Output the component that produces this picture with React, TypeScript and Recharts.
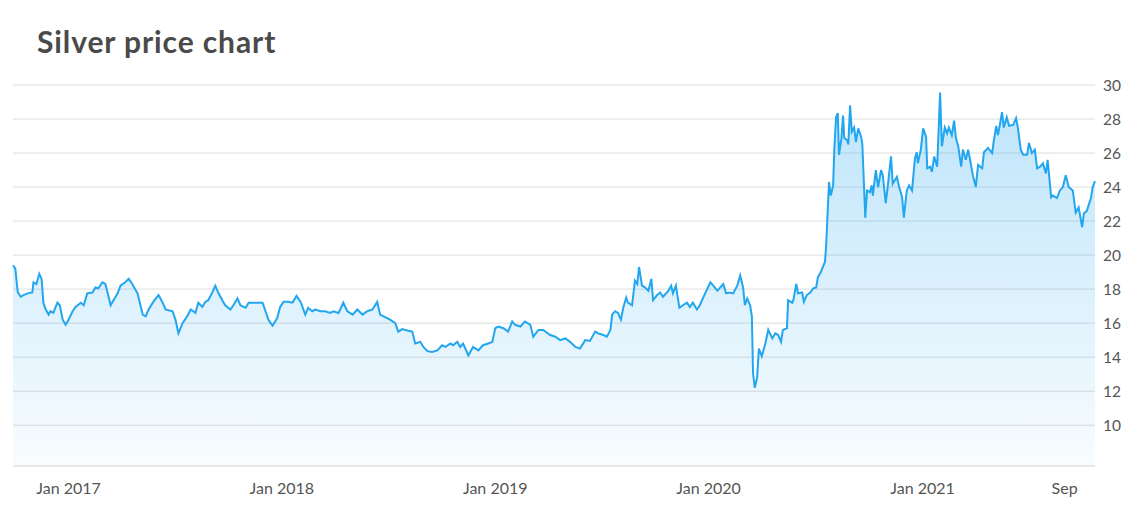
import { AreaChart, Area, XAxis, YAxis, CartesianGrid } from 'recharts';

// days since 1 Jan 2017
const DAYS = [
  -95, -91, -87, -82, -77, -70, -62, -60, -55, -50, -46, -43, -39, -34, -31, -26, -19, -15, -10, -5,
  0, 7, 12, 21, 26, 32, 41, 46, 51, 58, 63, 67, 72, 77, 84, 89, 97, 103, 109, 118,
  123, 127, 132, 137, 145, 154, 161, 166, 178, 183, 188, 195, 203, 209, 217, 222, 229, 234, 239, 246,
  251, 256, 263, 268, 277, 282, 289, 294, 303, 308, 316, 325, 332, 337, 342, 349, 357, 362, 368, 376,
  383, 390, 397, 405, 410, 417, 422, 431, 439, 448, 453, 462, 470, 477, 486, 494, 503, 511, 520, 528,
  533, 545, 550, 559, 564, 571, 581, 588, 593, 602, 607, 614, 622, 631, 639, 645, 653, 658, 665, 670,
  675, 684, 692, 701, 709, 718, 725, 730, 735, 744, 752, 759, 764, 773, 781, 790, 795, 804, 812, 824,
  833, 841, 850, 858, 867, 875, 884, 892, 901, 906, 915, 921, 927, 930, 935, 940, 945, 949, 954, 957,
  964, 969, 973, 976, 981, 986, 992, 997, 1000, 1007, 1012, 1017, 1026, 1031, 1034, 1039, 1045, 1051, 1058, 1063,
  1068, 1075, 1080, 1089, 1098, 1103, 1110, 1115, 1120, 1125, 1130, 1137, 1144, 1149, 1154, 1157, 1161, 1166, 1169, 1171,
  1174, 1178, 1181, 1186, 1192, 1197, 1204, 1209, 1214, 1219, 1222, 1229, 1231, 1238, 1240, 1245, 1248, 1255, 1258, 1263,
  1269, 1274, 1279, 1282, 1287, 1291, 1294, 1296, 1299, 1301, 1304, 1308, 1310, 1313, 1316, 1318, 1322, 1325, 1327, 1332,
  1334, 1337, 1340, 1344, 1347, 1351, 1356, 1358, 1363, 1366, 1371, 1374, 1376, 1381, 1385, 1390, 1393, 1398, 1402, 1407,
  1410, 1417, 1421, 1426, 1429, 1434, 1438, 1443, 1448, 1451, 1453, 1458, 1462, 1467, 1469, 1474, 1477, 1481, 1486, 1491,
  1494, 1499, 1503, 1506, 1511, 1515, 1518, 1522, 1527, 1530, 1535, 1539, 1545, 1547, 1552, 1556, 1563, 1566, 1573, 1580,
  1583, 1587, 1590, 1597, 1600, 1605, 1609, 1616, 1621, 1624, 1629, 1633, 1640, 1643, 1648, 1653, 1657, 1662, 1667, 1672,
  1675, 1681, 1684, 1691, 1696, 1701, 1706, 1711, 1718, 1723, 1728, 1734, 1737, 1742, 1749, 1752, 1756,
];

// USD per ounce
const PRICES = [
  19.4, 19.2, 17.84, 17.55, 17.65, 17.75, 17.8, 18.4, 18.3, 18.9, 18.6, 17.2, 16.8, 16.5, 16.7, 16.6, 17.2, 17.05, 16.2, 15.9,
  16.2, 16.7, 16.95, 17.2, 17.05, 17.75, 17.8, 18.1, 18.05, 18.4, 18.3, 17.75, 17.05, 17.35, 17.75, 18.2, 18.4, 18.6, 18.3, 17.75,
  17.05, 16.5, 16.4, 16.8, 17.25, 17.65, 17.2, 16.8, 16.7, 16.2, 15.4, 16.0, 16.4, 16.8, 16.6, 17.2, 16.95, 17.25, 17.35, 17.8,
  18.2, 17.8, 17.35, 17.05, 16.8, 17.05, 17.45, 17.05, 16.9, 17.2, 17.2, 17.2, 17.2, 16.7, 16.2, 15.85, 16.3, 16.95, 17.25, 17.25,
  17.2, 17.6, 17.25, 16.5, 16.9, 16.7, 16.8, 16.7, 16.7, 16.6, 16.7, 16.6, 17.2, 16.7, 16.5, 16.8, 16.5, 16.7, 16.8, 17.25,
  16.5, 16.3, 16.2, 16.0, 15.5, 15.65, 15.55, 15.5, 14.8, 14.9, 14.6, 14.35, 14.3, 14.4, 14.7, 14.6, 14.8, 14.7, 14.9, 14.6,
  14.8, 14.1, 14.6, 14.4, 14.7, 14.8, 14.9, 15.7, 15.8, 15.7, 15.5, 16.1, 15.9, 15.8, 16.1, 15.9, 15.2, 15.6, 15.6, 15.3,
  15.2, 15.0, 15.1, 14.9, 14.6, 14.5, 15.0, 14.95, 15.5, 15.4, 15.3, 15.2, 15.6, 16.5, 16.7, 16.6, 16.2, 16.9, 17.5, 17.2,
  17.05, 18.5, 18.3, 19.3, 18.2, 18.1, 17.9, 18.6, 17.35, 17.65, 17.8, 17.55, 17.9, 18.2, 17.75, 18.2, 16.9, 17.05, 17.2, 16.95,
  17.2, 16.8, 17.05, 17.75, 18.4, 18.2, 17.9, 18.1, 18.3, 17.75, 17.8, 17.75, 18.2, 18.8, 18.1, 17.05, 17.45, 17.05, 16.4, 13.05,
  12.2, 12.8, 14.5, 14.05, 14.8, 15.6, 15.1, 15.4, 15.3, 14.9, 15.6, 15.7, 17.35, 17.2, 17.35, 18.3, 17.75, 17.8, 17.25, 17.65,
  17.8, 18.05, 18.1, 18.7, 19.0, 19.35, 19.6, 20.5, 22.8, 24.3, 23.5, 24.1, 26.2, 28.1, 28.35, 25.9, 26.8, 28.2, 26.9, 26.75,
  26.5, 28.8, 27.25, 27.5, 26.65, 27.45, 26.95, 26.5, 22.2, 23.8, 23.7, 24.1, 23.5, 25.0, 24.0, 25.0, 24.7, 23.05, 24.2, 25.8,
  24.2, 24.6, 24.0, 23.4, 22.2, 23.8, 24.1, 23.8, 25.7, 26.05, 25.4, 26.2, 27.45, 26.95, 25.1, 25.2, 24.9, 25.8, 25.2, 29.55,
  26.4, 27.5, 27.15, 27.5, 27.05, 27.9, 26.9, 26.4, 25.2, 26.2, 25.6, 26.2, 25.1, 24.7, 24.0, 25.3, 25.1, 26.05, 26.3, 26.0,
  26.75, 27.6, 27.05, 28.4, 27.5, 28.1, 27.6, 27.65, 28.05, 27.5, 26.2, 25.9, 25.9, 26.6, 26.0, 26.2, 25.1, 25.2, 25.4, 24.8,
  25.6, 23.4, 23.5, 23.35, 23.8, 24.0, 24.7, 24.0, 23.8, 22.5, 22.8, 21.65, 22.45, 22.6, 23.35, 24.0, 24.35,
];

const X_TICKS = [0, 365, 730, 1095, 1461, 1704];
const X_LABELS = ['Jan 2017', 'Jan 2018', 'Jan 2019', 'Jan 2020', 'Jan 2021', 'Sep'];
const Y_TICKS = [10, 12, 14, 16, 18, 20, 22, 24, 26, 28, 30];

const LINE = '#22a6f0';
const FONT = 'Lato, sans-serif';

export default function App() {
  const data = DAYS.map((d, i) => ({ day: d, price: PRICES[i] }));

  return (
    <div style={{ position: 'relative', width: 1124, height: 509, fontFamily: FONT }}>
      <div
        style={{
          position: 'absolute',
          left: 29,
          top: 18,
          fontSize: 30,
          lineHeight: '30px',
          fontWeight: 700,
          letterSpacing: 0.9,
          color: '#4a4a4a',
        }}
      >
        Silver price chart
      </div>
      <AreaChart width={1124} height={509} data={data} margin={{ top: 77, right: 0, bottom: 21, left: 5 }}>
        <defs>
          <linearGradient id="silverFill" x1="0" y1="0" x2="0" y2="1">
            <stop offset="0%" stopColor={LINE} stopOpacity={0.3} />
            <stop offset="100%" stopColor={LINE} stopOpacity={0.03} />
          </linearGradient>
        </defs>
        <CartesianGrid vertical={false} stroke="#dddddd" />
        <XAxis
          dataKey="day"
          type="number"
          domain={[-95, 1756]}
          ticks={X_TICKS}
          tickFormatter={(v) => X_LABELS[X_TICKS.indexOf(v)] ?? ''}
          tickLine={false}
          axisLine={{ stroke: '#dfe3e5' }}
          tickMargin={11}
          tick={{ fontSize: 16, fill: '#555555', fontFamily: FONT }}
          interval={0}
        />
        <YAxis
          orientation="right"
          domain={[7.6, 30]}
          ticks={Y_TICKS}
          allowDataOverflow
          tickLine={false}
          axisLine={false}
          width={37}
          tick={{ fontSize: 15.5, fill: '#555555', fontFamily: FONT }}
        />
        <Area
          type="linear"
          dataKey="price"
          stroke={LINE}
          strokeWidth={2}
          fill="url(#silverFill)"
          fillOpacity={1}
          isAnimationActive={false}
          dot={false}
          activeDot={false}
        />
      </AreaChart>
    </div>
  );
}
